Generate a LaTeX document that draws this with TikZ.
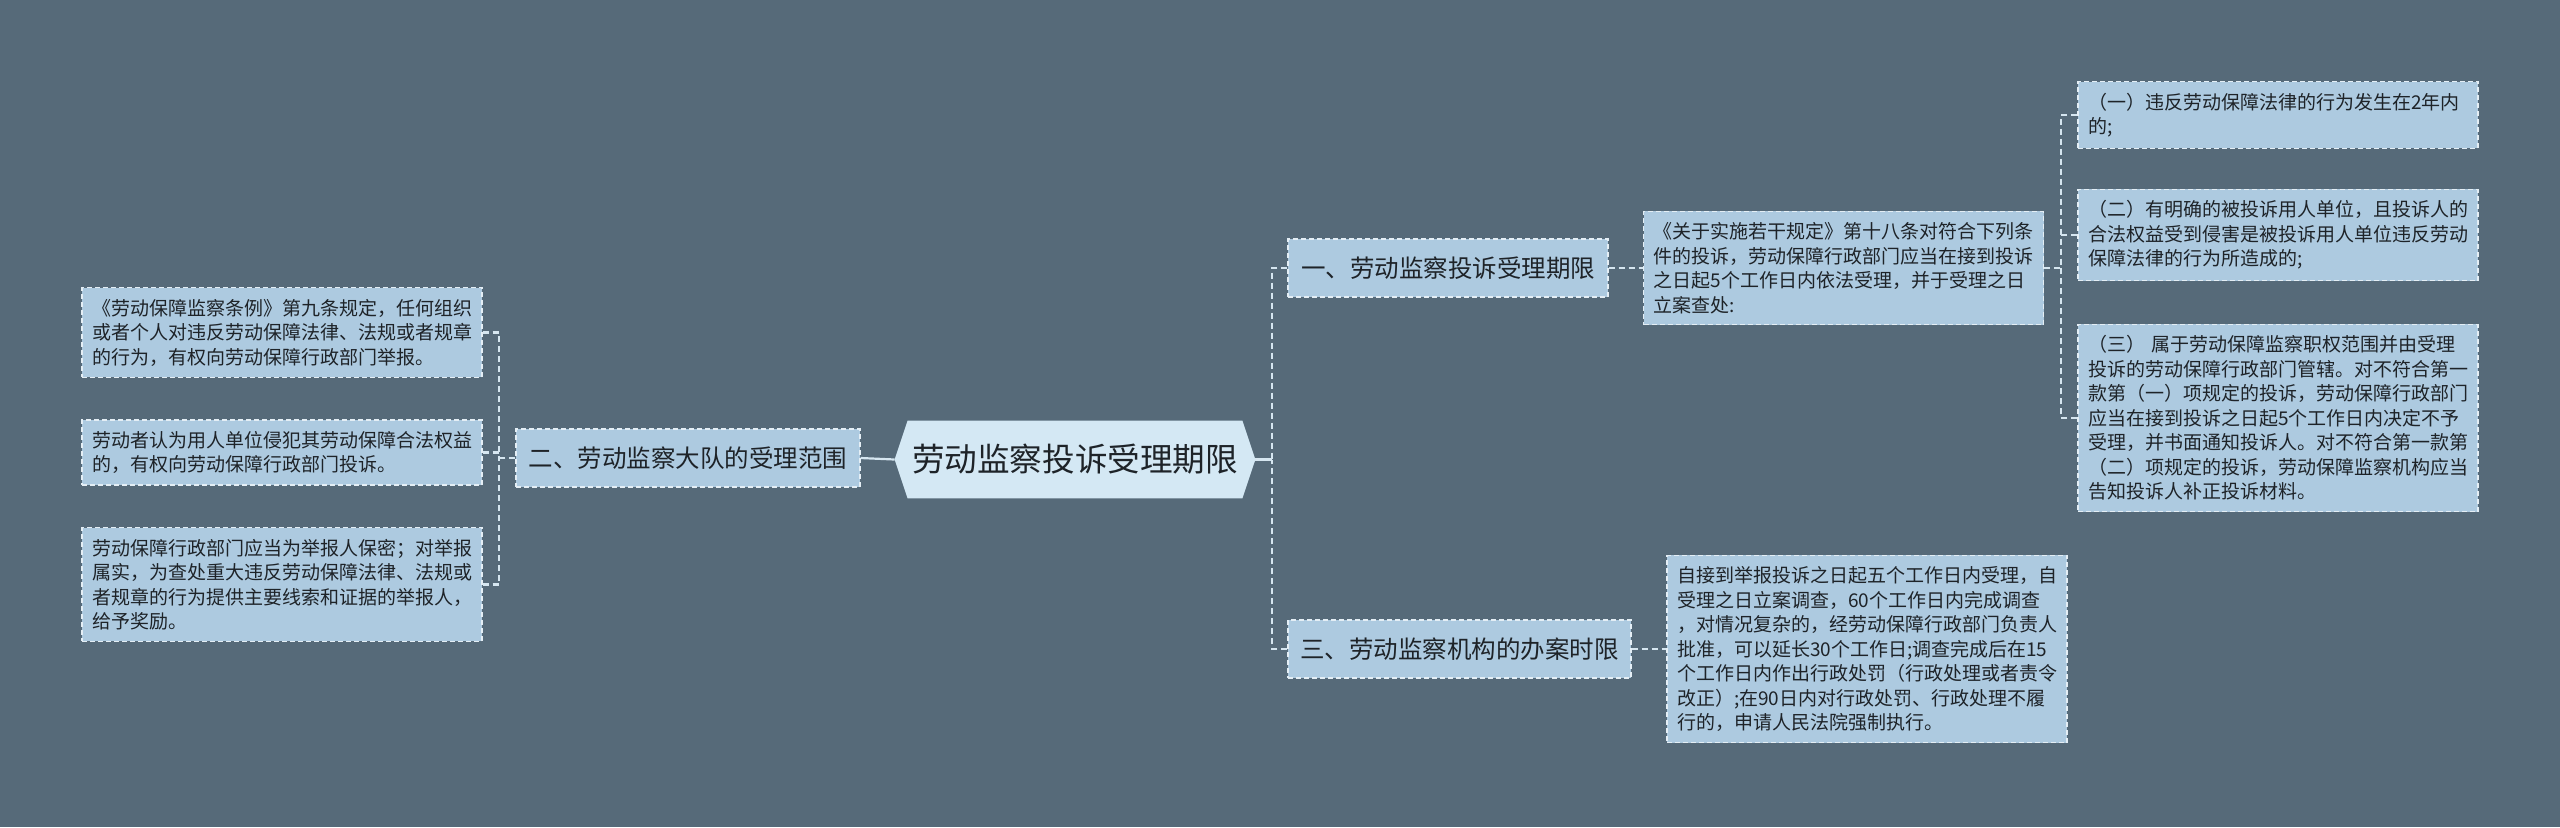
\documentclass[tikz,border=0pt]{standalone}
\usepackage{fontspec}
\setmainfont{Noto Sans CJK SC}
\usetikzlibrary{calc,backgrounds}
\definecolor{bg}{HTML}{566A79}
\definecolor{nodefill}{HTML}{ADCAE0}
\definecolor{rootfill}{HTML}{D4E8F4}
\definecolor{bord}{HTML}{E4EEF5}
\definecolor{wire}{HTML}{D6E6F0}
\definecolor{txt}{HTML}{1E2328}
\tikzset{
  leaf/.style={fill=nodefill, draw=bord, line width=0.6pt, dash pattern=on 2.5pt off 1.5pt,
    text width=190pt, align=left, inner xsep=5pt, inner ysep=5.6pt, text=txt,
    font=\fontsize{9.5pt}{12.25pt}\selectfont},
  lvlone/.style={fill=nodefill, draw=bord, line width=0.6pt, dash pattern=on 2.5pt off 1.5pt,
    inner xsep=0pt, minimum height=29pt, text=txt, font=\fontsize{12.25pt}{14pt}\selectfont},
  rootnode/.style={minimum width=180pt, minimum height=38.5pt, inner sep=0pt, text=txt,
    font=\fontsize{16.3pt}{18pt}\selectfont},
  wireline/.style={draw=wire, line width=1.1pt},
  wiredash/.style={draw=wire, line width=1.1pt, dash pattern=on 3pt off 2pt},
}
\begin{document}
\begin{tikzpicture}[x=0.5pt, y=-0.5pt]
\begin{scope}[on background layer]
\fill[bg] (0,0) rectangle (2560,827);
\end{scope}
\useasboundingbox (0,0) rectangle (2560,827);

% root
\node[rootnode] (root) at (1075,459.5) {劳动监察投诉受理期限};
\begin{scope}[on background layer]
\fill[rootfill] (root.west) -- ($(root.north west)+(13,0)$) -- ($(root.north east)+(-13,0)$)
  -- (root.east) -- ($(root.south east)+(-13,0)$) -- ($(root.south west)+(13,0)$) -- cycle;
\end{scope}

% level one
\node[lvlone, minimum width=172pt] (two) at (688,458) {二、劳动监察大队的受理范围};
\node[lvlone, minimum width=160pt] (one) at (1448,268) {一、劳动监察投诉受理期限};
\node[lvlone, minimum width=171.5pt] (three) at (1459.5,649) {三、劳动监察机构的办案时限};

% left leaves
\node[leaf] (la) at (282,332.5) {《劳动保障监察条例》第九条规定，任何组织\\或者个人对违反劳动保障法律、法规或者规章\\的行为，有权向劳动保障行政部门举报。};
\node[leaf] (lb) at (282,452.5) {劳动者认为用人单位侵犯其劳动保障合法权益\\的，有权向劳动保障行政部门投诉。};
\node[leaf] (lc) at (282,584.5) {劳动保障行政部门应当为举报人保密；对举报\\属实，为查处重大违反劳动保障法律、法规或\\者规章的行为提供主要线索和证据的举报人，\\给予奖励。};

% right side
\node[leaf] (ra) at (1843.5,268) {《关于实施若干规定》第十八条对符合下列条\\件的投诉，劳动保障行政部门应当在接到投诉\\之日起5个工作日内依法受理，并于受理之日\\立案查处:};
\node[leaf] (ca) at (2278,115) {（一）违反劳动保障法律的行为发生在2年内\\的;};
\node[leaf] (cb) at (2278,235) {（二）有明确的被投诉用人单位，且投诉人的\\合法权益受到侵害是被投诉用人单位违反劳动\\保障法律的行为所造成的;};
\node[leaf] (cc) at (2278,418) {（三） 属于劳动保障监察职权范围并由受理\\投诉的劳动保障行政部门管辖。对不符合第一\\款第（一）项规定的投诉，劳动保障行政部门\\应当在接到投诉之日起5个工作日内决定不予\\受理，并书面通知投诉人。对不符合第一款第\\（二）项规定的投诉，劳动保障监察机构应当\\告知投诉人补正投诉材料。};
\node[leaf] (rc) at (1867,649) {自接到举报投诉之日起五个工作日内受理，自\\受理之日立案调查，60个工作日内完成调查\\，对情况复杂的，经劳动保障行政部门负责人\\批准，可以延长30个工作日;调查完成后在15\\个工作日内作出行政处罚（行政处理或者责令\\改正）;在90日内对行政处罚、行政处理不履\\行的，申请人民法院强制执行。};

% junctions
\coordinate (jR) at (1272,459.5);
\coordinate (jL) at (499,458);
\coordinate (jC) at (2061,268);

% connectors
\draw[wireline] (root.west) -- (two.east);
\draw[wireline] (root.east) -- (jR);
\draw[wiredash] (one.west) -| (jR);
\draw[wiredash] (three.west) -| (jR);
\draw[wiredash] (two.west) -- (jL);
\draw[wiredash] (la.east) -| (jL);
\draw[wiredash] (lb.east) -| (jL);
\draw[wiredash] (lc.east) -| (jL);
\draw[wiredash] (one.east) -- (ra.west);
\draw[wiredash] (ra.east) -- (jC);
\draw[wiredash] (ca.west) -| (jC);
\draw[wiredash] (cb.west) -| (jC);
\draw[wiredash] (cc.west) -| (jC);
\draw[wiredash] (three.east) -- (rc.west);
\end{tikzpicture}
\end{document}
